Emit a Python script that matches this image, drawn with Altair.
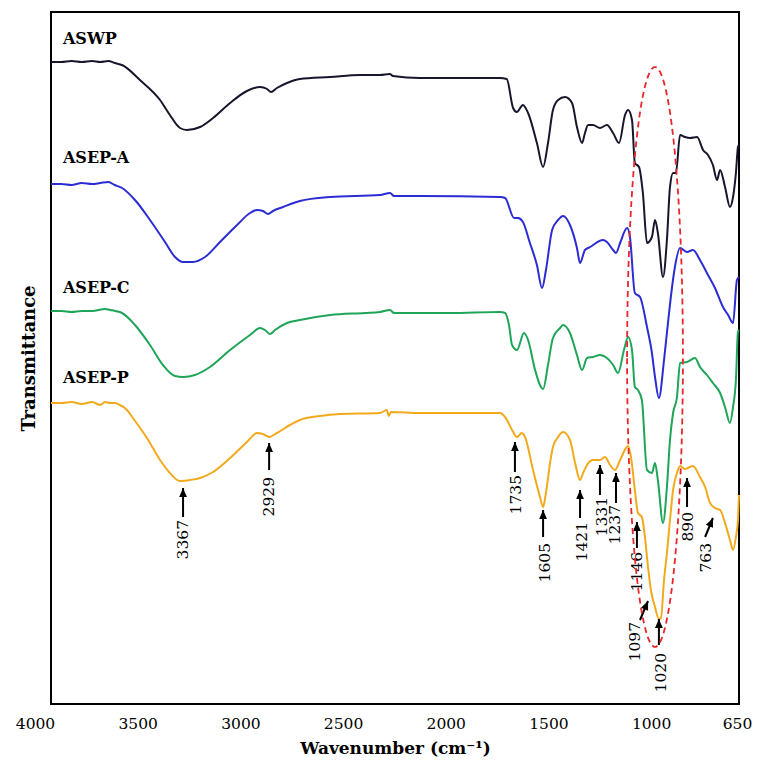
import altair as alt
import pandas as pd

# ---------------- spectra (wavenumber, offset transmittance a.u.) ----------------
aswp_wn = [4000, 3950, 3900, 3850, 3800, 3760, 3720, 3690, 3654, 3567, 3469, 3421, 3372, 3338, 3274, 3211,
           3128, 3046, 2982, 2948, 2929, 2900, 2851, 2788, 2641, 2495, 2398, 2350, 2335, 2203, 2057, 1814,
           1781, 1750, 1732, 1702, 1677, 1634, 1604, 1580, 1556, 1531, 1497, 1463, 1439, 1414, 1400, 1385,
           1361, 1327, 1293, 1263, 1234, 1205, 1190, 1171, 1157, 1137, 1118, 1098, 1074, 1059, 1045, 1020,
           1001, 986, 971, 957, 937, 913, 889, 854, 825, 801, 777, 757, 742, 718, 694, 679, 665, 655, 650]
aswp_t = [642, 642, 643, 642, 643, 642, 643, 641, 639, 624, 604, 589, 576, 574, 577, 586,
          601, 613, 617, 615, 612, 616, 621, 625, 627, 629, 629, 630, 628, 626, 626, 626,
          625, 596, 592, 599, 591, 561, 537, 561, 594, 604, 607, 601, 577, 561, 571, 579,
          579, 576, 579, 571, 561, 589, 594, 584, 541, 537, 511, 461, 467, 484, 471, 427,
          464, 517, 531, 531, 569, 567, 566, 567, 554, 549, 539, 524, 534, 517, 497, 507, 531, 557, 559]

asepa_wn = [4000, 3950, 3900, 3850, 3800, 3760, 3720, 3690, 3654, 3591, 3518, 3445, 3396, 3357, 3309, 3250,
            3177, 3094, 3031, 2997, 2968, 2943, 2919, 2870, 2788, 2641, 2398, 2349, 2330, 2203, 1814, 1789,
            1745, 1726, 1702, 1668, 1634, 1609, 1590, 1560, 1531, 1507, 1473, 1439, 1424, 1400, 1375, 1312,
            1293, 1263, 1249, 1229, 1195, 1181, 1157, 1132, 1098, 1074, 1059, 1040, 1015, 1001, 976, 962,
            937, 903, 874, 840, 801, 767, 728, 703, 679, 660, 650]
asepa_t = [520, 520, 519, 521, 520, 521, 522, 519, 516, 504, 484, 462, 447, 442, 442, 447,
           462, 479, 491, 494, 493, 490, 493, 497, 503, 507, 509, 511, 508, 508, 507, 506,
           486, 486, 482, 461, 439, 416, 434, 474, 484, 488, 479, 456, 441, 454, 457, 464,
           462, 454, 451, 461, 476, 467, 411, 407, 377, 351, 327, 306, 344, 371, 417, 437,
           456, 452, 454, 444, 429, 416, 397, 389, 381, 424, 427]

asepc_wn = [4000, 3950, 3900, 3850, 3800, 3737, 3713, 3688, 3654, 3591, 3518, 3455, 3396, 3357, 3299, 3226,
            3128, 3031, 2982, 2958, 2934, 2909, 2851, 2788, 2641, 2471, 2398, 2349, 2330, 2057, 1814, 1789,
            1770, 1755, 1731, 1697, 1677, 1643, 1604, 1580, 1556, 1521, 1507, 1473, 1439, 1414, 1390, 1361,
            1327, 1293, 1263, 1239, 1210, 1190, 1171, 1157, 1142, 1123, 1098, 1074, 1059, 1045, 1020, 1001,
            986, 971, 952, 937, 903, 864, 840, 806, 777, 742, 718, 694, 679, 665, 655, 650]
asepc_t = [393, 393, 392, 393, 393, 395, 394, 393, 391, 379, 359, 339, 328, 327, 329, 337,
           354, 369, 376, 374, 370, 374, 381, 384, 389, 391, 392, 394, 391, 391, 392, 391,
           379, 359, 354, 371, 364, 334, 315, 339, 366, 376, 379, 371, 349, 334, 346, 347,
           349, 346, 339, 331, 354, 367, 354, 317, 314, 304, 234, 231, 241, 224, 181, 217,
           264, 291, 307, 341, 342, 346, 337, 329, 321, 311, 297, 281, 297, 324, 372, 374]

asepp_wn = [4000, 3950, 3900, 3850, 3800, 3760, 3737, 3713, 3688, 3674, 3630, 3601, 3533, 3469, 3421, 3372,
            3323, 3274, 3211, 3128, 3046, 2997, 2968, 2938, 2900, 2836, 2788, 2690, 2593, 2398, 2365, 2355,
            2345, 2203, 2008, 1814, 1789, 1755, 1731, 1707, 1692, 1653, 1619, 1604, 1590, 1570, 1556, 1531,
            1507, 1473, 1448, 1424, 1409, 1390, 1361, 1327, 1302, 1278, 1254, 1229, 1200, 1190, 1176, 1157,
            1142, 1123, 1108, 1093, 1079, 1059, 1040, 1030, 1015, 1001, 986, 971, 952, 937, 913, 889,
            874, 840, 815, 791, 767, 742, 718, 694, 679, 665, 655, 650]
asepp_t = [301, 301, 302, 300, 302, 299, 302, 301, 301, 300, 294, 286, 266, 244, 231, 223,
           224, 226, 232, 246, 262, 271, 270, 267, 271, 279, 284, 288, 290, 291, 294, 288,
           292, 291, 291, 291, 287, 274, 267, 271, 267, 234, 207, 197, 211, 241, 257, 267,
           272, 264, 241, 224, 231, 239, 244, 244, 247, 239, 234, 244, 256, 258, 247, 214,
           191, 187, 167, 137, 114, 97, 85, 86, 124, 151, 184, 214, 231, 238, 235, 237,
           238, 227, 217, 201, 196, 194, 181, 164, 154, 167, 184, 209]

series_names = ["ASWP", "ASEP-A", "ASEP-C", "ASEP-P"]
series_colors = ["#16162c", "#2c2cd4", "#1ea558", "#f2aa1c"]

# series name labels (anchor in data coordinates)
label_wn = [3942, 3942, 3942, 3942]
label_t = [660, 541, 411, 321]

# peak annotations
ann_label = ["3367", "2929", "1735", "1605", "1421", "1331", "1237", "1146", "1097", "1020", "890", "763"]
ann_tip_wn = [3357, 2938, 1741, 1604, 1424, 1327, 1249, 1147, 1093, 1040, 903, 777]
ann_tip_t = [216, 261, 262, 194, 214, 239, 231, 182, 103, 85, 226, 186]
ann_tail_wn = [3357, 2938, 1741, 1604, 1424, 1327, 1249, 1147, 1132, 1040, 903, 815]
ann_tail_t = [187, 234, 232, 167, 186, 209, 201, 156, 84, 59, 197, 167]
ann_text_wn = [3357, 2938, 1736, 1595, 1414, 1317, 1254, 1147, 1157, 1030, 898, 810]
ann_text_t = [184, 227, 229, 161, 182, 207, 199, 152, 82, 51, 192, 161]
ann_diag = [False, False, False, False, False, False, False, False, True, False, False, True]

# highlighted region (ellipse centre and semi-axes, data units)
ell_wn, ell_t, ell_rx, ell_ry = 1059, 347, 136, 290

# ---------------- tables ----------------
frames = []
for name, wn, t in zip(series_names,
                       [aswp_wn, asepa_wn, asepc_wn, asepp_wn],
                       [aswp_t, asepa_t, asepc_t, asepp_t]):
    frames.append(pd.DataFrame({"wn": wn, "t": t, "series": name}))
spec = pd.concat(frames, ignore_index=True)

labels = pd.DataFrame({"wn": label_wn, "t": label_t, "txt": series_names})
ann = pd.DataFrame({"label": ann_label, "wn": ann_tip_wn, "t": ann_tip_t,
                    "wn2": ann_tail_wn, "t2": ann_tail_t,
                    "twn": ann_text_wn, "tt": ann_text_t, "diag": ann_diag})

SERIF = "DejaVu Serif"
xscale = alt.Scale(domain=[650, 4000], reverse=True, nice=False, zero=False)
yscale = alt.Scale(domain=[0, 692], nice=False, zero=False)

xaxis = alt.Axis(values=[4000, 3500, 3000, 2500, 2000, 1500, 1000, 650], format="d",
                 labelFont=SERIF, labelFontSize=15.5, labelColor="black", labelPadding=12,
                 ticks=False, tickSize=0, domain=False, grid=False, labelFlush=False, labelOverlap=False,
                 labelOffset={"condition": {"test": "datum.value == 650", "value": -2}, "value": -16},
                 title="Wavenumber (cm\u207b\u00b9)", titleFont=SERIF, titleFontSize=17,
                 titleFontWeight="bold", titleColor="black", titlePadding=9)
yaxis = alt.Axis(labels=False, ticks=False, tickSize=0, domain=False, grid=False,
                 title="Transmittance", titleFont=SERIF, titleFontSize=18, titleFontWeight="bold",
                 titleColor="black", titlePadding=13)

lines = alt.Chart(spec).mark_line(strokeWidth=2, interpolate="monotone").encode(
    x=alt.X("wn:Q", scale=xscale, axis=xaxis),
    y=alt.Y("t:Q", scale=yscale, axis=yaxis),
    color=alt.Color("series:N", scale=alt.Scale(domain=series_names, range=series_colors), legend=None),
)

names = alt.Chart(labels).mark_text(align="left", baseline="alphabetic", font=SERIF, fontSize=16,
                                    fontWeight="bold", color="black").encode(
    x=alt.X("wn:Q", scale=xscale), y=alt.Y("t:Q", scale=yscale), text="txt:N")

ellipse = alt.Chart(alt.sequence(0, 361, 4, as_="a")).transform_calculate(
    wn=f"{ell_wn} + {ell_rx} * cos(datum.a * PI / 180)",
    t=f"{ell_t} + {ell_ry} * sin(datum.a * PI / 180)",
).mark_line(color="#e8262b", strokeWidth=1.8, strokeDash=[6, 4]).encode(
    x=alt.X("wn:Q", scale=xscale), y=alt.Y("t:Q", scale=yscale), order="a:Q")

shafts = alt.Chart(ann).mark_rule(color="black", strokeWidth=2).encode(
    x=alt.X("wn:Q", scale=xscale), y=alt.Y("t:Q", scale=yscale), x2="wn2:Q", y2="t2:Q")

HEAD = "M0,0L-0.5,1.15L0.5,1.15Z"
heads_v = alt.Chart(ann).transform_filter("!datum.diag").mark_point(
    shape=HEAD, size=240, filled=True, color="black", opacity=1, strokeWidth=0).encode(
    x=alt.X("wn:Q", scale=xscale), y=alt.Y("t:Q", scale=yscale))
heads_d = alt.Chart(ann).transform_filter("datum.diag").mark_point(
    shape=HEAD, size=240, filled=True, color="black", opacity=1, strokeWidth=0, angle=23).encode(
    x=alt.X("wn:Q", scale=xscale), y=alt.Y("t:Q", scale=yscale))

ann_text = alt.Chart(ann).mark_text(angle=270, align="right", baseline="middle", font=SERIF,
                                    fontSize=15.5, color="black").encode(
    x=alt.X("twn:Q", scale=xscale), y=alt.Y("tt:Q", scale=yscale), text="label:N")

chart = alt.layer(lines, names, shafts, heads_v, heads_d, ann_text, ellipse).properties(
    width=688, height=692,
    autosize=alt.AutoSizeParams(type="none"),
    padding={"left": 43, "top": 4, "right": 15, "bottom": 65},
    background="white",
).configure_view(stroke="black", strokeWidth=2)

chart.save("out.html", embed_options={"renderer": "svg", "actions": False})
